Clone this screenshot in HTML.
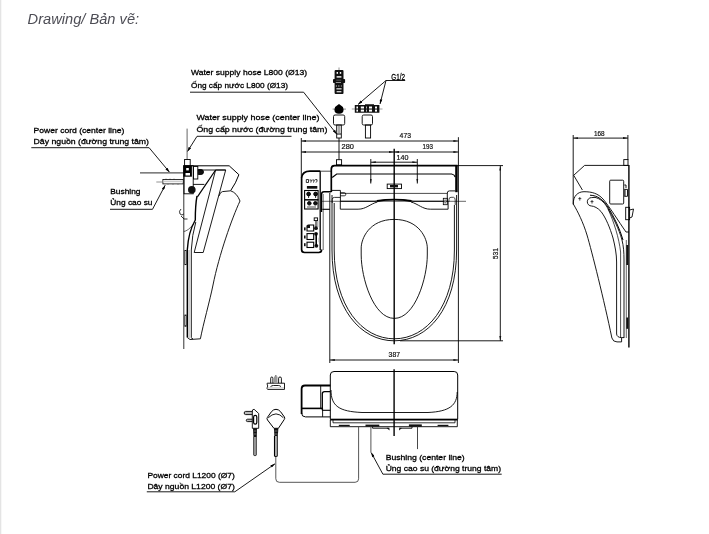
<!DOCTYPE html>
<html><head><meta charset="utf-8">
<style>
html,body{margin:0;padding:0;background:#fff;width:709px;height:534px;overflow:hidden}
svg{position:absolute;left:0;top:0;display:block}
svg.main{will-change:transform}
.t{font-family:"Liberation Sans",sans-serif;font-size:8px;fill:#000;stroke:#000;stroke-width:0.3px}
.d{font-family:"Liberation Sans",sans-serif;font-size:7px;fill:#111;stroke:#111;stroke-width:0.2px}
.title{font-family:"Liberation Sans",sans-serif;font-size:13.8px;font-style:italic;fill:#4d4d55}
</style></head>
<body>
<svg class="main" width="709" height="534" viewBox="0 0 709 534">
<defs>
<marker id="ar" viewBox="0 0 10 6" refX="10" refY="3" markerWidth="6" markerHeight="2.8" orient="auto-start-reverse" markerUnits="userSpaceOnUse"><path d="M0,0 L10,3 L0,6 z" fill="#000"/></marker>
<marker id="da" viewBox="0 0 10 4" refX="10" refY="2" markerWidth="5" markerHeight="2.4" orient="auto-start-reverse" markerUnits="userSpaceOnUse"><path d="M0,0 L10,2 L0,4 z" fill="#111"/></marker>
</defs>
<rect x="0" y="0" width="1" height="534" fill="#e4e4e4"/><rect x="1" y="0" width="1" height="534" fill="#f7f7f7"/>

<g fill="none" stroke="#000" stroke-width="0.9">
<!-- ===== Top labels ===== -->
<polyline points="190,92.2 303.6,92.2 336.8,134.2" marker-end="url(#ar)"/>
<polyline points="291.5,136.3 197,136.3 187.4,151.6" marker-end="url(#ar)"/>
<line x1="187.1" y1="128.6" x2="187.1" y2="159.5" stroke="#555"/>

<!-- ===== Left labels ===== -->
<polyline points="31.3,147.7 149.1,147.7 169.5,172.2" marker-end="url(#ar)"/>
<line x1="140" y1="172.8" x2="184" y2="172.8" stroke="#555" stroke-width="1.2"/>
<rect x="162.9" y="179.5" width="20.3" height="4.4" stroke-width="0.8"/><rect x="163.5" y="180.6" width="19.5" height="1.6" fill="#ccc" stroke="none"/><path d="M166,179.5 v-0.8 M170,179.5 v-0.8 M174,179.5 v-0.8 M168,183.9 v0.6 M173,183.9 v0.6 M178,183.9 v0.6" stroke-width="0.6"/>
<line x1="156.3" y1="182" x2="163" y2="182" stroke="#777" stroke-width="0.8"/>
<polyline points="110,209.3 152.5,209.3 165.2,185.2" marker-end="url(#ar)"/>

<!-- ===== Left side view ===== -->
<line x1="183.8" y1="165" x2="183.8" y2="349" stroke="#333" stroke-width="1"/>
<rect x="184.6" y="159.5" width="5.6" height="6.2"/>
<rect x="183.3" y="165.7" width="8.6" height="11" fill="#000" stroke="none"/><rect x="186.2" y="168" width="2.6" height="2.4" fill="#fff" stroke="none"/><rect x="185.5" y="173" width="4.5" height="2.5" fill="#fff" stroke="none"/>
<rect x="184" y="165.7" width="9.2" height="28.1"/>
<rect x="193.5" y="166.5" width="4.3" height="12.5"/>
<path d="M198.3,169.5 L200.9,169.5 A2.6,2.5 0 0 1 200.9,174.5 L198.3,174.5 Z" fill="#111"/>
<circle cx="191.8" cy="189.8" r="3.8" fill="#111" stroke="none"/>
<path d="M190,165.8 L229.2,165.8 L238.9,174.7 Q236,183 230.7,190.6" stroke-width="1"/>
<path d="M197.8,170 L225.7,170"/>
<!-- lid slab -->
<path d="M215.6,170 L225.7,170 L203.2,252.5 L194.2,252.5"/>
<path d="M215.6,170 L194.2,252.5"/>
<path d="M215.6,170 L197.4,196.8" stroke-width="1.2"/>
<path d="M193.1,184.4 L204.4,184.4"/>
<!-- seat -->
<path d="M219,196 Q220,192 222.5,191.6 L230.7,190.8 Q237,193 240,201 C232,218 219,255 213,285 C210,300 203,325 200.4,338.8 L190,339.5 L187.3,337.5"/>
<path d="M197,196 Q195.3,205 195.3,220 Q188.3,232 187.3,250 L187.3,337.5" stroke-width="1.4"/>
<path d="M195.8,222 Q192,235 191.3,250 L191.3,337.5 Q191.5,338.8 193,338.8" stroke-width="0.9"/>
<path d="M183.8,231.5 Q188,231 193.4,224.3" stroke-width="0.6"/>
<line x1="189" y1="250" x2="189" y2="338" stroke="#888" stroke-width="0.8"/>
<rect x="184.8" y="250.4" width="1.4" height="14.3" fill="#fff" stroke="#000" stroke-width="0.7"/>
<rect x="184.8" y="315" width="1.4" height="11.3" fill="#fff" stroke="#000" stroke-width="0.7"/>
<path d="M181,209 Q178.5,211 180,214 Q182,216 183.8,214 M181,216 L184,219 L187.5,219" stroke-width="0.8"/>

<!-- ===== Pipe fittings ===== -->
<rect x="334.6" y="70" width="8.9" height="24" rx="1" fill="#111" stroke="none"/>
<rect x="333" y="79" width="12.1" height="4.1" rx="0.8" fill="#111" stroke="none"/>
<line x1="339" y1="67.5" x2="339" y2="70" stroke="#888"/>
<g fill="#fff" stroke="none">
<rect x="336.6" y="72" width="1.4" height="1.8"/><rect x="339.8" y="72" width="1.4" height="1.8"/>
<rect x="336.6" y="76.2" width="4.8" height="1.4"/>
<rect x="336.2" y="79.8" width="5" height="0.6" opacity="0.5"/>
<rect x="335.8" y="82.2" width="5.2" height="0.7" opacity="0.8"/>
<rect x="335.8" y="85.2" width="1.2" height="1.6" opacity="0.5"/><rect x="338.2" y="85.2" width="1.2" height="1.6" opacity="0.5"/><rect x="340.8" y="85.2" width="1" height="1.6" opacity="0.5"/>
<rect x="336.4" y="88.3" width="5.2" height="1.1"/>
<rect x="336.6" y="91.2" width="4.8" height="1.1"/>
</g>
<line x1="332.6" y1="109.1" x2="346" y2="109.1" stroke="#666" stroke-width="0.7"/>
<path d="M339,104 L341,105.6 Q343.6,106.5 343.6,109.5 Q343.6,113.8 339,113.8 Q334.4,113.8 334.4,109.5 Q334.4,106.5 337,105.6 Z" fill="#000" stroke="none"/>
<rect x="333.5" y="115" width="11.2" height="10" rx="1.5"/>
<rect x="336.7" y="125" width="4.6" height="13"/><rect x="337.7" y="126" width="2.6" height="7" fill="#aaa" stroke="none"/><line x1="337" y1="134" x2="341" y2="134" stroke-width="1"/>
<line x1="339" y1="138" x2="339" y2="159.7"/>
<rect x="336.5" y="159.7" width="5.1" height="5.1"/>
<line x1="351.8" y1="109" x2="382.5" y2="109" stroke="#777" stroke-width="0.7"/>
<path d="M354.8,105 L365,105 L365,104.2 L374,104.2 L374,105 L379.4,105 L379.4,112.7 L354.8,112.7 Z" fill="#111" stroke="none"/>
<g fill="#fff" stroke="none">
<rect x="356.4" y="106.5" width="1.6" height="2"/><rect x="356.4" y="109.6" width="1.6" height="2"/>
<rect x="360.8" y="106.5" width="3.2" height="2"/><rect x="360.8" y="109.6" width="3.2" height="2"/>
<rect x="366" y="106.5" width="1" height="2" opacity="0.7"/><rect x="366" y="109.6" width="1" height="2" opacity="0.7"/>
<rect x="369" y="106.5" width="3" height="2"/><rect x="369" y="109.6" width="3" height="2"/>
<rect x="375" y="106.5" width="2" height="2"/><rect x="375" y="109.6" width="2" height="2"/>
</g>
<rect x="362.2" y="115" width="10.3" height="10" rx="1.5"/>
<rect x="365.4" y="125" width="5.2" height="13"/>
<polyline points="405.2,80.5 386,80.5 358,104.5" marker-end="url(#ar)"/>
<line x1="386" y1="80.5" x2="380" y2="104" marker-end="url(#ar)"/>

<!-- ===== Top view dims ===== -->
<line x1="301.3" y1="138" x2="301.3" y2="177"/>
<line x1="458.4" y1="137.2" x2="458.4" y2="193"/>
<line x1="301.3" y1="141" x2="458.4" y2="141" marker-start="url(#da)" marker-end="url(#da)"/>
<line x1="301.3" y1="152" x2="394" y2="152" marker-start="url(#da)" marker-end="url(#da)"/>
<line x1="394" y1="152" x2="458.4" y2="152" marker-start="url(#da)" marker-end="url(#da)"/>
<line x1="370.8" y1="162.2" x2="417.3" y2="162.2" marker-start="url(#da)" marker-end="url(#da)"/>
<line x1="370.8" y1="159" x2="370.8" y2="183.5" marker-end="url(#da)"/>
<line x1="417.3" y1="159" x2="417.3" y2="183.5" marker-end="url(#da)"/>
<line x1="394.2" y1="148.8" x2="394.2" y2="344.2" stroke-width="1.4"/>
<!-- 531 -->
<line x1="457" y1="165.6" x2="503" y2="165.6"/>
<line x1="400" y1="340.8" x2="503" y2="340.8"/>
<line x1="500.3" y1="165.6" x2="500.3" y2="340.8" marker-start="url(#da)" marker-end="url(#da)"/>
<!-- 387 -->
<line x1="329.8" y1="193" x2="329.8" y2="363"/>
<line x1="458.4" y1="193" x2="458.4" y2="363"/>
<line x1="329.8" y1="360" x2="458.4" y2="360" marker-start="url(#da)" marker-end="url(#da)"/>

<!-- ===== Top view body ===== -->
<path d="M331.3,192 L331.3,169 Q331.3,165.6 334.5,165.6 L457.5,165.6" stroke-width="1.7"/>
<rect x="455.2" y="165.6" width="2.5" height="26.6" fill="#000" stroke="none"/>
<path d="M332.2,177.5 L336.7,174 L451.6,174 Q454.5,174.5 455.2,177" stroke-width="1.2"/>
<rect x="387.2" y="184.1" width="14.3" height="4.5"/>
<rect x="390" y="185" width="8" height="2.4" fill="#111" stroke="none"/>
<line x1="340.3" y1="193.4" x2="447.3" y2="193.4" stroke-width="0.7"/>
<line x1="322" y1="201.3" x2="466" y2="201.3" stroke-width="0.6"/>
<path d="M340.3,201.3 L375,201.3 Q394.2,197.8 413.4,201.3 L448.3,201.3" stroke-width="1.1"/>
<path d="M377,201 Q394.2,198.2 411.4,201" stroke-width="1.8"/>
<path d="M340.3,201.3 L340.3,209.2 L358.1,209.2 C366,209.2 370,204 377.4,202"/>
<path d="M448.1,201.3 L448.1,209.2 L430.3,209.2 C422.4,209.2 418.4,204 411,202"/>
<!-- hinge brackets -->
<path d="M331.3,190.4 L340.4,190.4 L340.4,201.8" stroke-width="0.9"/>
<path d="M332.2,203 L332.2,199.5 Q332.2,197.4 334.5,197.4 L340.4,197.4" stroke-width="0.8"/>
<path d="M340.3,192.7 L344.3,192.7 Q345.8,192.7 345.8,194.25 Q345.8,195.8 344.3,195.8 L340.3,195.8" stroke-width="0.8"/>
<path d="M447.3,201.8 L447.3,193 Q447.3,190.9 449.5,190.9 L455.2,190.9" stroke-width="0.9"/>
<path d="M449,201.8 L449,199.3 Q449,197.3 451,197.3 L453.5,197.3 Q455.2,197.5 455.2,200 L455.2,205" stroke-width="0.7"/>
<rect x="443.3" y="198.3" width="4" height="6.4" stroke-width="0.8"/>
<rect x="444.3" y="199.5" width="2" height="4" fill="#888" stroke="none"/>
<!-- seat outline -->
<path d="M332,195 L332,250 C332,308.7 360.5,340.8 394.3,340.8 C428.1,340.8 456.6,308.7 456.6,250 L456.6,195"/>
<path d="M334.2,203 L334.2,250 C334.2,306.5 362,338.8 394.3,338.8 C426.6,338.8 454.4,306.5 454.4,250 L454.4,205"/>
<!-- opening -->
<path d="M394.2,219.4 C369,219.4 361.2,238.9 361.2,248 L361.2,255 C361.2,277.6 373.3,318.4 394.3,318.4 C415.2,318.4 427.3,277.6 427.3,255 L427.3,248 C427.3,238.9 419.5,219.4 394.2,219.4 Z"/>

<!-- remote -->
<path d="M301.6,177 L301.6,249.5 Q301.6,252.5 304.6,252.5 L318.8,252.5 Q321.6,252.5 321.6,249.5" stroke-width="1.7"/>
<path d="M301.6,177.5 Q302.5,171.2 310,171.2 L320.3,171.2" stroke-width="1.7"/>
<line x1="320.3" y1="171.2" x2="331.3" y2="171.2" stroke-width="0.7"/>
<line x1="320.2" y1="171.2" x2="320.2" y2="250" stroke-width="1.3"/>
<line x1="323.2" y1="194" x2="323.2" y2="250" stroke-width="0.6"/>
<path d="M306.3,179.5 h2.2 v3 h-2.2 z M309.6,180 l1.8,0 l-0.6,2.6 M312.3,180 h2 l-0.8,2.6 M315.2,179.6 h1.8 v1.6 l-1,1.4" stroke-width="0.8"/>
<rect x="306.9" y="186" width="10.4" height="2.7" fill="#111" stroke="none"/>
<rect x="304.6" y="190.5" width="13.5" height="9.3" stroke-width="1.1"/>
<rect x="304.6" y="199.8" width="13.5" height="9.2" stroke-width="1.1"/>
<circle cx="308.6" cy="194" r="1.9" fill="#111"/>
<circle cx="315.6" cy="194" r="1.9" fill="#111"/>
<path d="M308.6,195 v3 M315.6,195 v3" stroke-width="0.8"/>
<circle cx="309.3" cy="203.3" r="1.8" fill="#111"/>
<circle cx="315.4" cy="203.3" r="1.8" fill="#111"/>
<path d="M307,207 h9" stroke-width="0.7"/>
<rect x="314.2" y="217.9" width="3.4" height="2.7" stroke-width="0.9"/>
<line x1="316" y1="220.6" x2="316" y2="227" stroke-width="1"/>
<line x1="317.8" y1="221" x2="317.8" y2="227" stroke="#999" stroke-width="1"/>
<path d="M307,231 L307,226 Q307,225 308.5,225 L313.7,225 L313.7,231 Z" stroke-width="1.1"/>
<rect x="307" y="225" width="3" height="3" fill="#111" stroke="none"/>
<rect x="307" y="233.6" width="6.7" height="5.9" stroke-width="1.1"/>
<rect x="307" y="242.2" width="6.7" height="5.3" stroke-width="1.1"/>
<circle cx="316" cy="228.2" r="1.9" fill="#111" stroke="none"/>
<circle cx="316" cy="233.8" r="1.9" fill="#111" stroke="none"/>
<circle cx="316.4" cy="245.8" r="1.9" fill="#111" stroke="none"/>
<line x1="316.2" y1="233" x2="316.2" y2="246" stroke-width="1.6"/>
<rect x="304" y="227.4" width="1.6" height="3" fill="#111" stroke="none"/>
<rect x="304" y="235.5" width="1.6" height="3" fill="#111" stroke="none"/>
<rect x="304" y="243.2" width="1.6" height="3" fill="#111" stroke="none"/>
<line x1="319.1" y1="237.7" x2="319.1" y2="242.2" stroke="#999" stroke-width="1"/>
<path d="M331.3,191.8 L324,191.8 Q321.5,191.8 321.5,194.5 L321.5,212" stroke-width="1.4"/>
<line x1="322.3" y1="209.3" x2="329.9" y2="209.3" stroke-width="1.1"/>
</g>


<!-- ===== Right side view ===== -->
<g fill="none" stroke="#000" stroke-width="0.9">
<line x1="573.2" y1="135" x2="573.2" y2="204.5"/>
<line x1="627.9" y1="135" x2="627.9" y2="160"/>
<line x1="573.2" y1="138.1" x2="627.9" y2="138.1" marker-start="url(#da)" marker-end="url(#da)"/>
<polyline points="628.9,165.4 584.6,165.4 573.7,175.3 582.4,190"/>
<rect x="623.8" y="159.6" width="4.2" height="5.8"/>
<line x1="628.9" y1="165" x2="628.9" y2="347.5" stroke-width="1.4"/>
<rect x="609.7" y="180.2" width="14" height="23.8" rx="1"/>
<path d="M624.3,185 L626,185 L626,188 M624.3,189.4 L627.5,189.4 L627.5,196.3 L624.3,196.3"/><rect x="624.3" y="189.4" width="1.2" height="6.9" fill="#111" stroke="none"/>
<rect x="625.7" y="207.3" width="3.9" height="12.4"/>
<path d="M629.6,210 L633.5,209 L632,217 L629.6,218"/>
<path d="M573.3,204 C573,196 578,191.7 584,191.7 C592,191.7 598,193.5 603,199 C609,206 619,222 626,232 L629,232"/>
<path d="M573.3,204 C578,212 583,222 587,235 C592,252 604,300 611.9,338 Q613,341.9 617,341.9 L621.6,341.9 L621.6,337.6"/>
<path d="M591.5,197.6 L595,197.4 C600,198.5 604,202 607,207 C613,217 619,229 622,240 C623.5,246 624,252 624,260 L624,338"/>
<path d="M590,195.2 C598,195.5 603,200 608,207 C614,217 620,229 623,240" stroke-width="1"/>
<path d="M591.5,206 C594,206.1 598,208 601,211.5 C606,218 610,228 613,238 C615,246 616.6,254 616.6,262 L616.6,334 Q617,337.5 621.6,337.6 L624,337.6"/>
<path d="M591.5,206 A4.2,4.2 0 0 1 591.5,197.6"/>
<path d="M608,209 C614,222 619,238 620.6,252 L620.6,337.6" stroke-width="0.7"/>
<line x1="626.3" y1="240" x2="626.3" y2="338" stroke-width="0.6"/>
<rect x="626.3" y="245" width="1.8" height="20" fill="#111" stroke="none"/>
<rect x="626.3" y="317.5" width="1.8" height="11.3" fill="#111" stroke="none"/>
<path d="M578.3,198.6 h3 M579.8,197 v3.6 M590.5,201.6 h3 M592,200 v3.6" stroke-width="0.7"/>
</g>

<!-- ===== Bottom (front) view ===== -->
<g fill="none" stroke="#000" stroke-width="0.9">
<path d="M330.3,419.2 L330.3,375 Q330.3,371.5 334,371.5 L454.2,371.5 Q457.7,371.5 457.7,375 L457.7,419.2 Z" stroke-width="1"/>
<path d="M331,390 C331,406 339,411.5 362,412.5 L428,412.5 C450,411.5 457,405 457.2,392"/>
<path d="M330.3,419.8 L330.3,426.7 L457.3,426.7 L457.3,419.8" stroke-width="0.9"/>
<path d="M333,419.8 L333,422.8 L455,422.8 L455,419.8" stroke-width="0.8"/>
<line x1="330.3" y1="419.8" x2="457.7" y2="419.8" stroke-width="1.5"/>
<g fill="#111" stroke="none"><rect x="338.8" y="424.8" width="10.9" height="1.2"/><rect x="365.5" y="424.6" width="13.8" height="2"/><rect x="408.9" y="424.4" width="12.9" height="2.3"/><rect x="437.6" y="424.8" width="10.8" height="1.2"/></g>
<path d="M372.6,426.7 L372.6,428.2 L388,428.2" stroke-width="0.9"/><path d="M389.6,430.6 L386.5,428 L389.3,427.5 Z" fill="#111" stroke="none"/>
<path d="M412,426.7 L412,428.2 L400.5,428.2" stroke-width="0.9"/><path d="M399,430.6 L402,428 L399.3,427.5 Z" fill="#111" stroke="none"/>
<path d="M301.6,414 L301.6,389 Q301.6,385.5 305,385.5 L330.4,385.5" stroke-width="1.8"/>
<path d="M301.6,413 Q301.6,416.9 305.5,416.9 L330.4,416.9" stroke-width="1"/>
<line x1="320.7" y1="385.5" x2="320.7" y2="408.4" stroke-width="0.9"/>
<line x1="301.6" y1="408.4" x2="322.6" y2="408.4" stroke-width="1.6"/>
<line x1="322.6" y1="408.4" x2="322.6" y2="416.9" stroke-width="0.9"/>
<path d="M322.3,410.3 L322.3,393.8 Q322.3,391.6 324.5,391.6 L330.4,391.6" stroke-width="1.3"/>
<line x1="322.3" y1="410.3" x2="330.4" y2="410.3" stroke-width="1.1"/>
<line x1="394.1" y1="369.3" x2="394.1" y2="436.1" stroke-width="1.4"/>
<path d="M358.6,426.6 L358.6,478.8 Q358.6,482.3 355.1,482.3 L279.3,482.3 Q275.8,482.3 275.8,478.8 L275.8,456" stroke="#444"/>
<line x1="417.5" y1="426.6" x2="417.5" y2="449.1" stroke="#333"/>
<line x1="370.9" y1="426.6" x2="370.9" y2="452.5" stroke="#555" stroke-width="1"/>
<polyline points="501.7,474.2 382.9,474.2 371.2,452.6" marker-end="url(#ar)"/>
<polyline points="146.8,491.8 234.8,491.8 275,463.8" marker-end="url(#ar)"/>
<!-- plugs -->
<path d="M267.2,383.2 L284.5,383.2 L284.5,389.4 L267.6,389.4 Q266.6,388.5 267.3,387.2 Q268,386 267.5,385 Q266.7,384 267.2,383.2 Z" stroke-width="0.9"/>
<path d="M270.5,386.6 Q272,385.5 273.5,385.5 L278.4,385.5 Q279.8,385.5 281,386.6" stroke-width="0.9"/>
<line x1="268" y1="387.8" x2="284" y2="387.8" stroke="#bbb" stroke-width="0.8"/>
<path d="M270.7,383.2 L270.7,378.2 Q270.7,377 271.8,377 Q272.9,377 272.9,378.2 L272.9,383.2" stroke-width="0.9"/>
<path d="M278.6,383.2 L278.6,378.2 Q278.6,377 280,377 Q281.4,377 281.4,378.2 L281.4,383.2" stroke-width="0.9"/>
<rect x="274" y="376.5" width="3.5" height="6.7" fill="#999" stroke="none"/>
<circle cx="275.8" cy="375.9" r="0.9" fill="#777" stroke="none"/>
<path d="M252.3,411.4 L245.6,411.4 Q244.2,411.4 244.2,413 Q244.2,414.6 245.6,414.6 L252.3,414.6" fill="#bbb" stroke-width="0.9"/>
<path d="M252.3,419.2 L247.5,419.2 Q246.3,419.2 246.3,420.4 Q246.3,421.6 247.5,421.6 L252.3,421.6" fill="#bbb" stroke-width="0.9"/>
<path d="M252.3,428.3 L252.3,411 Q252.3,409.3 254.1,409.3 L258.7,413.5 L258.7,428.3 Z" stroke-width="0.9"/>
<rect x="253.6" y="415.3" width="3.2" height="8.8" rx="1.6" stroke-width="1.2"/>
<path d="M253,428.3 L257,428.3 L256.8,437 L253.4,437 Z" fill="#111" stroke="none"/>
<path d="M253.8,431 h2.6 M253.8,434 h2.6" stroke="#888" stroke-width="0.8"/>
<path d="M253.9,437 L253.9,455 Q255,456.2 256.1,455 L256.1,437" stroke-width="1.1"/>
<line x1="255" y1="437" x2="255" y2="455.5" stroke="#999" stroke-width="1.2"/>
<path d="M273.9,428.3 L267.5,420 Q266.5,418.6 267.4,417.4 L271.5,411.6 Q273.5,409.3 276,409.3 Q278.5,409.3 280.5,411.6 L284.4,417 Q285.2,418.3 284.2,419.6 L278.4,428.3 Z" stroke-width="1"/>
<path d="M268.2,417.8 Q272,414 276,413.9 Q280,414 283.4,417.8" stroke-width="0.9"/>
<path d="M273.9,428.3 L278.4,428.3 L277.8,436 L274.4,436 Z" fill="#111" stroke="none"/>
<path d="M274.5,431 h3 M274.5,434 h3" stroke="#888" stroke-width="0.8"/>
<path d="M274.5,436 L274.5,456 Q275.8,456.8 277.2,456 L277.2,436" stroke-width="1.1"/>
<line x1="275.85" y1="436" x2="275.85" y2="456" stroke="#999" stroke-width="1.3"/>
</g>

<!-- ===== Text labels ===== -->
<text class="t" x="191" y="75.2" textLength="116" lengthAdjust="spacingAndGlyphs">Water supply hose L800 (Ø13)</text>
<text class="t" x="191" y="87.5" textLength="97" lengthAdjust="spacingAndGlyphs">Ống cấp nước L800 (Ø13)</text>
<text class="t" x="196.4" y="120.3" textLength="123" lengthAdjust="spacingAndGlyphs">Water supply hose (center line)</text>
<text class="t" x="196.4" y="131.5" textLength="131" lengthAdjust="spacingAndGlyphs">Ống cấp nước (đường trung tâm)</text>
<text class="t" x="33.6" y="133" textLength="90.7" lengthAdjust="spacingAndGlyphs">Power cord (center line)</text>
<text class="t" x="33.6" y="143.7" textLength="115.4" lengthAdjust="spacingAndGlyphs">Dây nguồn (đường trung tâm)</text>
<text class="t" x="110.3" y="194.4" textLength="30.2" lengthAdjust="spacingAndGlyphs">Bushing</text>
<text class="t" x="110.3" y="205.3" textLength="42.2" lengthAdjust="spacingAndGlyphs">Ủng cao su</text>
<text class="t" x="391.2" y="79.8" textLength="13.8" lengthAdjust="spacingAndGlyphs" style="font-size:9.2px">G1/2</text>
<text class="d" x="399.6" y="138" textLength="11.4" lengthAdjust="spacingAndGlyphs">473</text>
<text class="d" x="341.6" y="149" textLength="12.4" lengthAdjust="spacingAndGlyphs">280</text>
<text class="d" x="422.6" y="149" textLength="10.4" lengthAdjust="spacingAndGlyphs">193</text>
<text class="d" x="396.6" y="159.7" textLength="11.9" lengthAdjust="spacingAndGlyphs">140</text>
<text class="d" x="388.6" y="357.4" textLength="11.4" lengthAdjust="spacingAndGlyphs">387</text>
<text class="d" transform="translate(498,253.6) rotate(-90)" text-anchor="middle" textLength="11.4" lengthAdjust="spacingAndGlyphs">531</text>
<text class="d" x="593.9" y="135.5" textLength="10.7" lengthAdjust="spacingAndGlyphs">168</text>
<text class="t" x="385.7" y="459.6" textLength="79" lengthAdjust="spacingAndGlyphs">Bushing (center line)</text>
<text class="t" x="385.7" y="470.7" textLength="115.3" lengthAdjust="spacingAndGlyphs">Ủng cao su (đường trung tâm)</text>
<text class="t" x="147.4" y="477.5" textLength="87.4" lengthAdjust="spacingAndGlyphs">Power cord L1200 (Ø7)</text>
<text class="t" x="147.4" y="489.4" textLength="87.4" lengthAdjust="spacingAndGlyphs">Dây nguồn L1200 (Ø7)</text>
</svg>
<svg width="709" height="40" viewBox="0 0 709 40">
<text class="title" x="27.6" y="23.6" textLength="111.5" lengthAdjust="spacingAndGlyphs">Drawing/ Bản vẽ:</text>
</svg>
</body></html>
